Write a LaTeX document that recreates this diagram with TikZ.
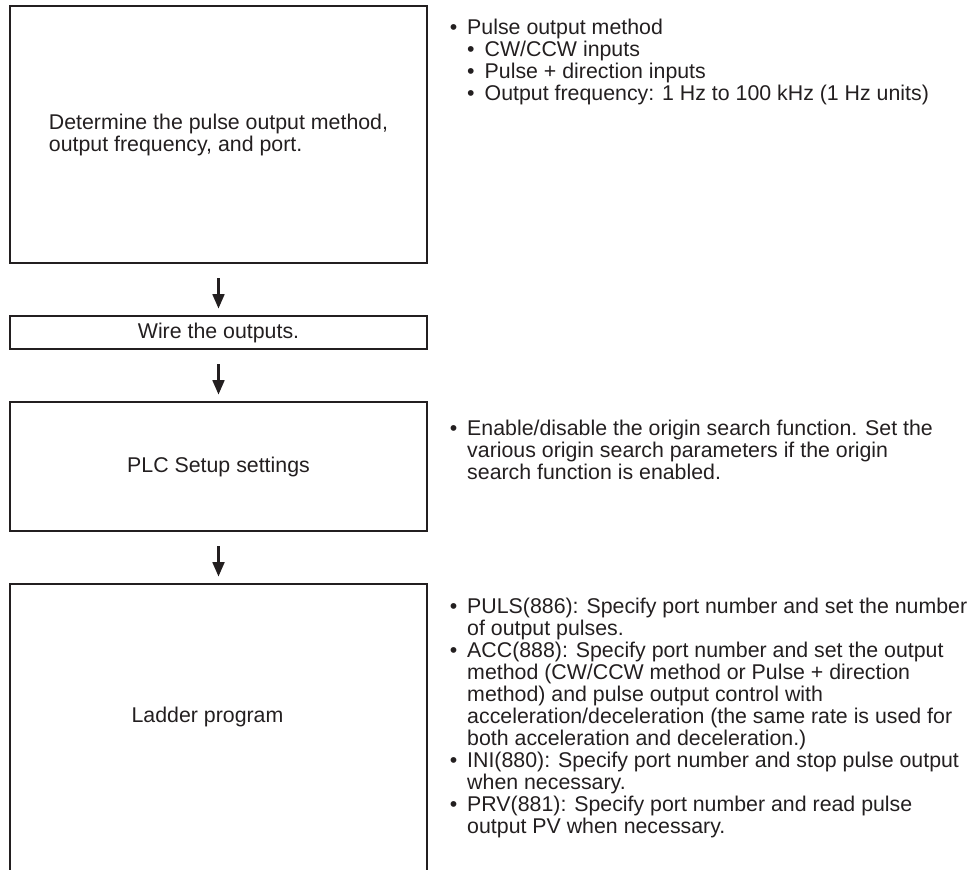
\documentclass[tikz,border=0pt]{standalone}
\usepackage{fontspec}
\setmainfont{Liberation Sans}
\usepackage{tikz}
\usetikzlibrary{arrows.meta,positioning}
\definecolor{txtdark}{HTML}{231F20}

\newcommand{\bul}{\makebox[13.1pt][l]{\textbullet}}
\newcommand{\ind}{\hspace*{13.1pt}}

\tikzset{
  stepbox/.style={draw=txtdark, line width=1.7pt, minimum width=312.75pt, inner sep=0pt},
  flow/.style={-{Triangle[width=8.5pt,length=11pt]}, draw=txtdark, line width=2.6pt,
    shorten <=10.5pt, shorten >=4.5pt},
  note/.style={anchor=north west, inner sep=0pt, align=left, text=txtdark}
}

\begin{document}
\begin{tikzpicture}[x=0.75pt,y=-0.75pt,
  font=\fontsize{16}{16.5}\selectfont, text=txtdark]
\useasboundingbox (0,0) rectangle (972,870);
\clip (0,0) rectangle (972,870);

% flow chart boxes
\node[stepbox, minimum height=192.75pt, align=left] (method) at (218.5,134.5)
  {Determine the pulse output method,\\output frequency, and port.};
\node[stepbox, minimum height=24.75pt] (wire) at (218.5,332.5) {Wire the outputs.};
\node[stepbox, minimum height=96.75pt] (setup) at (218.5,466.5) {PLC Setup settings};
\node[stepbox, minimum height=237pt] (ladder) at (218.5,742) {};
\node (laddertxt) at (207.5,717) {Ladder program};

\draw[flow] (method.south) -- (wire.north);
\draw[flow] (wire.south) -- (setup.north);
\draw[flow] (setup.south) -- (ladder.north);

% notes on the right
\node[note] (methodnote) at (449.5,18.4)
  {\bul Pulse output method\\
   \ind\bul CW/CCW inputs\\
   \ind\bul Pulse + direction inputs\\
   \ind\bul Output frequency: 1 Hz to 100 kHz (1 Hz units)};
\node[note] (setupnote) at (449.5,419.4)
  {\bul Enable/disable the origin search function. Set the\\
   \ind various origin search parameters if the origin\\
   \ind search function is enabled.};
\node[note] (laddernote) at (449.5,597.4)
  {\bul PULS(886): Specify port number and set the number\\
   \ind of output pulses.\\
   \bul ACC(888): Specify port number and set the output\\
   \ind method (CW/CCW method or Pulse + direction\\
   \ind method) and pulse output control with\\
   \ind acceleration/deceleration (the same rate is used for\\
   \ind both acceleration and deceleration.)\\
   \bul INI(880): Specify port number and stop pulse output\\
   \ind when necessary.\\
   \bul PRV(881): Specify port number and read pulse\\
   \ind output PV when necessary.};
\end{tikzpicture}
\end{document}
